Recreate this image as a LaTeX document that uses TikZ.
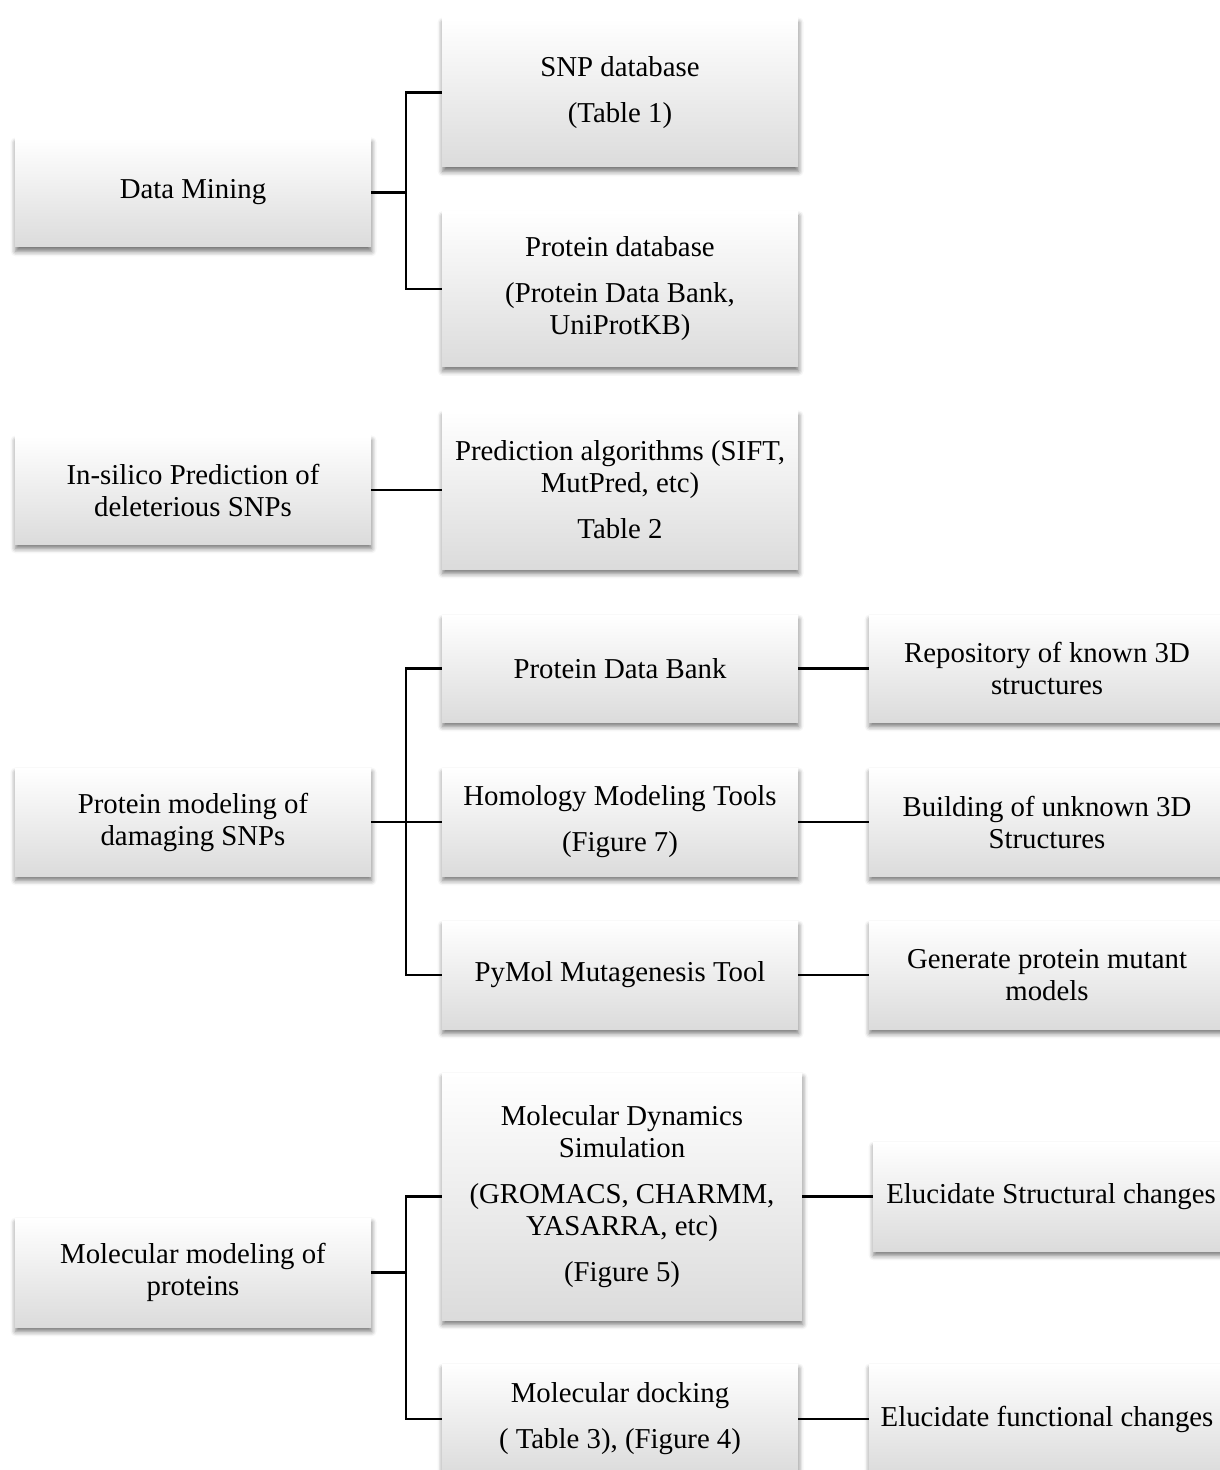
\documentclass[tikz,border=0pt]{standalone}
\usepackage{fontspec}
\setmainfont{Liberation Serif}
\usetikzlibrary{shadows.blur}
\tikzset{
  box/.style={rectangle, inner sep=2pt, align=center, minimum width=178pt,
    shading=axis, top color=white, middle color=white, bottom color=black!14,
    blur shadow={shadow xshift=0.3pt, shadow yshift=-2.2pt, shadow blur radius=2.5pt, shadow opacity=55},
    font=\fontsize{14.4}{16}\selectfont},
  link/.style={line width=1.1pt, black}
}
\begin{document}
\begin{tikzpicture}[x=0.5pt,y=-0.5pt]
\useasboundingbox (0,0) rectangle (1219,1470);
% left column
\node[box, minimum height=54.5pt] (dm) at (193,192.5) {Data Mining};
\node[box, minimum height=54pt] (ins) at (193,490) {In-silico Prediction of\\deleterious SNPs};
\node[box, minimum height=54pt] (pm) at (193,822) {Protein modeling of\\damaging SNPs};
\node[box, minimum height=54.5pt] (mm) at (193,1272.5) {Molecular modeling of\\proteins};
% middle column
\node[box, minimum height=74.5pt] (snp) at (620,92.5) {SNP database\\[7pt](Table 1)};
\node[box, minimum height=77.5pt] (pdbase) at (620,289) {Protein database\\[7pt](Protein Data Bank,\\UniProtKB)};
\node[box, minimum height=79pt] (pred) at (620,490) {Prediction algorithms (SIFT,\\MutPred, etc)\\[7pt]Table 2};
\node[box, minimum height=53.5pt] (pdb) at (620,668.5) {Protein Data Bank};
\node[box, minimum height=54pt] (hom) at (620,822) {Homology Modeling Tools\\[7pt](Figure 7)};
\node[box, minimum height=54pt] (pym) at (620,975) {PyMol Mutagenesis Tool};
\node[box, minimum height=123.5pt, minimum width=180pt] (md) at (622,1196.5) {Molecular Dynamics\\Simulation\\[7pt](GROMACS, CHARMM,\\YASARRA, etc)\\[7pt](Figure 5)};
\node[box, minimum height=55pt] (dock) at (620,1419) {Molecular docking\\[7pt]( Table 3), (Figure 4)};
% right column
\node[box, minimum height=53.5pt] (rep) at (1047,668.5) {Repository of known 3D\\structures};
\node[box, minimum height=54pt] (bld) at (1047,822) {Building of unknown 3D\\Structures};
\node[box, minimum height=54pt] (gen) at (1047,975) {Generate protein mutant\\models};
\node[box, minimum height=54.5pt] (str) at (1051,1196.5) {Elucidate Structural changes};
\node[box, minimum height=55pt] (fun) at (1047,1419) {Elucidate functional changes};
% hub coordinates
\coordinate (h1) at (406,192.5);
\coordinate (h3) at (406,822);
\coordinate (h4) at (406,1272.5);
% connectors
\draw[link] (dm.east) -- (h1);
\draw[link] (h1) |- (snp.west);
\draw[link] (h1) |- (pdbase.west);
\draw[link] (ins.east) -- (pred.west);
\draw[link] (pm.east) -- (h3);
\draw[link] (h3) |- (pdb.west);
\draw[link] (h3) -- (hom.west);
\draw[link] (h3) |- (pym.west);
\draw[link] (mm.east) -- (h4);
\draw[link] (h4) |- (md.west);
\draw[link] (h4) |- (dock.west);
\draw[link] (pdb.east) -- (rep.west);
\draw[link] (hom.east) -- (bld.west);
\draw[link] (pym.east) -- (gen.west);
\draw[link] (md.east) -- (str.west);
\draw[link] (dock.east) -- (fun.west);
\end{tikzpicture}
\end{document}
